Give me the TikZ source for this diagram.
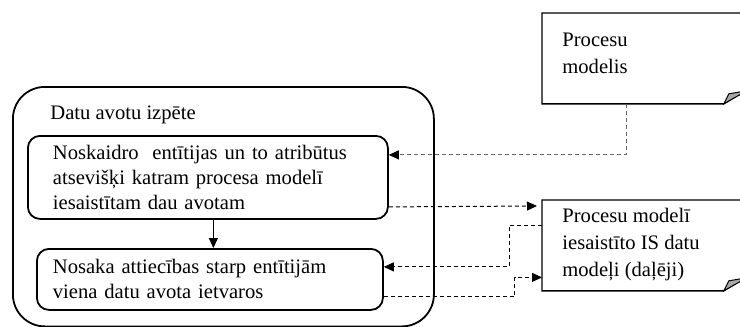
\documentclass[tikz,border=0pt]{standalone}
\usepackage{fontspec}
\setmainfont{Liberation Serif}
\usetikzlibrary{calc,arrows.meta}

\tikzset{
    frame/.style={draw, line width=0.9pt, rounded corners=16pt, anchor=north west},
    stepbox/.style={draw, line width=0.9pt, rounded corners=6pt, anchor=north west, align=left},
    docpage/.style={anchor=north west, inner sep=0pt},
    doclabel/.style={anchor=base west, inner sep=0pt, align=left, font=\fontsize{10.3}{13.5}\selectfont},
    pageline/.style={line width=0.7pt},
    flap/.style={line width=0.5pt, fill=black!35},
    flow/.style={line width=0.5pt, dash pattern=on 2pt off 1.5pt, -{Triangle[length=5pt,width=4.5pt]}},
    down/.style={line width=0.6pt, -{Triangle[length=5pt,width=4.5pt]}},
}

\begin{document}
\begin{tikzpicture}[x=0.5pt, y=-0.5pt, every node/.style={font=\fontsize{10.3}{12.5}\selectfont}]
    \useasboundingbox (0,0) rectangle (740,327);

    % Data source study frame
    \node[frame, minimum width=210.5pt, minimum height=119.75pt] (study) at (12,86) {};
    \node[anchor=base west, inner sep=0pt] (studytitle) at (50,119) {Datu avotu izpēte};

    % Steps inside the frame
    \node[stepbox, text width=155pt, inner xsep=12.5pt, minimum height=41.5pt] (entities) at (27,135)
        {Noskaidro~ entītijas un to atribūtus\\atsevišķi katram procesa modelī\\iesaistītam dau avotam};
    \node[stepbox, text width=157pt, inner xsep=8pt, minimum height=30.5pt] (relations) at (36,248)
        {Nosaka attiecības starp entītijām\\viena datu avota ietvaros};

    \draw[down] ([xshift=2.75pt]entities.south) -- ([xshift=2.75pt]entities.south |- relations.north);

    % Documents on the right (label base = last line)
    \node[docpage, minimum width=102pt, minimum height=45pt] (procmodel) at (542,13) {};
    \node[doclabel] (procmodeltext) at ($(procmodel.north west)+(20,60)$) {Procesu\\modelis};

    \node[docpage, minimum width=102pt, minimum height=45pt] (ismodel) at (542,200) {};
    \node[doclabel] (ismodeltext) at ($(ismodel.north west)+(20,76)$) {Procesu modelī\\iesaistīto IS datu\\modeļi (daļēji)};

    % page outline with folded corner
    \foreach \d in {procmodel,ismodel} {
        \draw[pageline] (\d.south west) -- (\d.north west) -- (\d.north east)
            -- ($(\d.south east)+(0,-14)$) -- ($(\d.south east)+(-23,0)$) -- cycle;
        \filldraw[flap] ($(\d.south east)+(-23,0)$) -- ($(\d.south east)+(-18,-10)$)
            -- ($(\d.south east)+(0,-13)$) -- cycle;
    }

    % Data flows
    \draw[flow, draw=black!60, -{Triangle[length=5pt,width=4.5pt,black]}]
        ($(procmodel.south west)+(84,0)$) |- ([yshift=11.25pt]entities.east);
    \draw[flow] ([yshift=-14.75pt]entities.east) -- ($(ismodel.north west)+(-5,6)$);
    \draw[flow] ([yshift=10pt]ismodel.west) -- ++(-33,0) |- ([yshift=6.25pt]relations.east);
    \draw[flow] ([yshift=-8.75pt]relations.east) -- ++(131,0) |- ([yshift=-16pt]ismodel.west);
\end{tikzpicture}
\end{document}
